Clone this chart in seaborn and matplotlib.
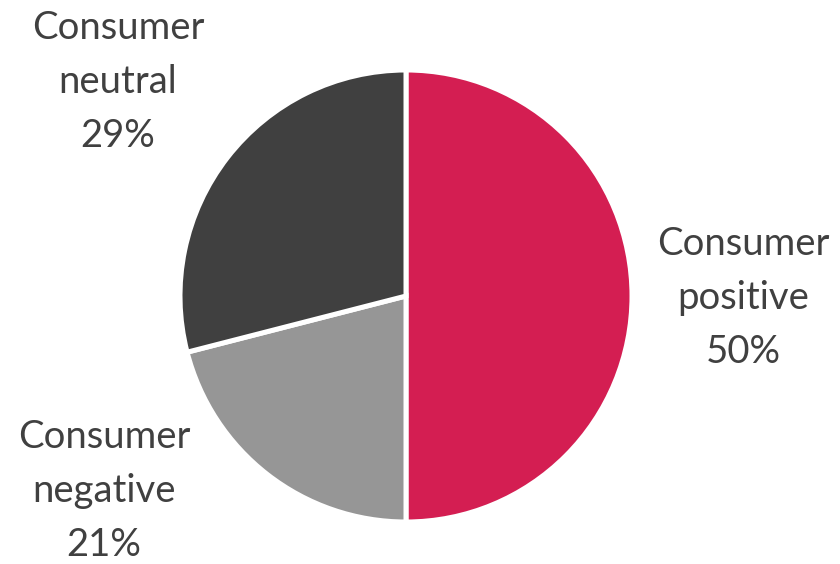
import matplotlib
matplotlib.use("Agg")
import matplotlib.pyplot as plt
import seaborn as sns

categories = ["Consumer\npositive", "Consumer\nnegative", "Consumer\nneutral"]
values = [50, 21, 29]
colors = ["#D41E52", "#969696", "#404040"]

sns.set_theme(style="white")
plt.rcParams['font.family'] = ['Lato', 'DejaVu Sans']

fig = plt.figure(figsize=(8.4, 5.64), dpi=100)
W, H = 840, 564
cx, cy, r = 406, 296, 226
ax = fig.add_axes([(cx - r) / W, (H - cy - r) / H, 2 * r / W, 2 * r / H])
ax.pie(values, colors=colors, startangle=90, counterclock=False,
       wedgeprops=dict(edgecolor="white", linewidth=3.6), radius=1.0)
ax.set_xlim(-1, 1)
ax.set_ylim(-1, 1)
ax.set_aspect("equal")
ax.axis("off")

label_pos = [(743, 298), (104, 491), (118, 82)]
for cat, v, (px, py) in zip(categories, values, label_pos):
    fig.text(px / W, 1 - py / H, f"{cat}\n{v}%", ha="center", va="center",
             fontsize=27.5, color="#404040", linespacing=1.62)

fig.savefig("out.png", dpi=100, facecolor="white")
